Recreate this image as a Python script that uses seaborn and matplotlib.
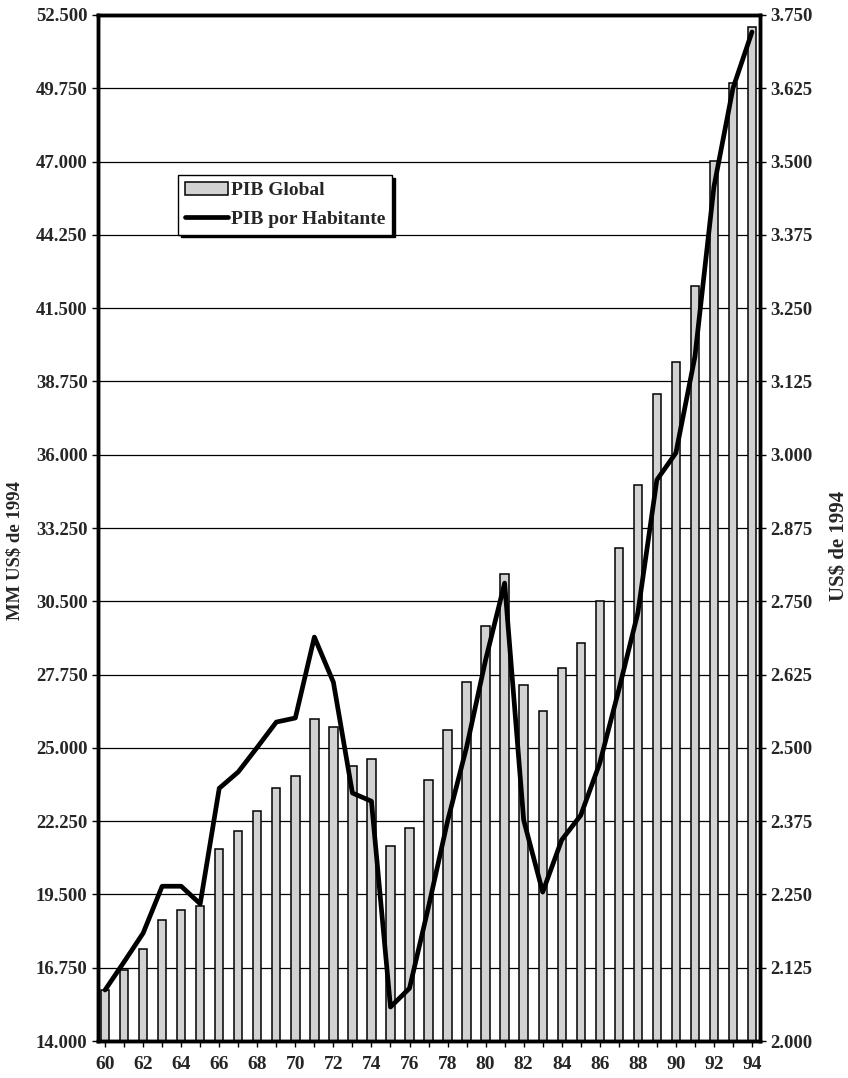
import numpy as np
import pandas as pd
import matplotlib
matplotlib.use("Agg")
import matplotlib.pyplot as plt
from matplotlib.patches import Patch
from matplotlib.lines import Line2D
from matplotlib.ticker import FuncFormatter, FixedLocator
import seaborn as sns

years = [str(y) for y in range(60, 95)]
pib_global = [15910, 16660, 17450, 18540, 18920, 19070, 21200, 21880, 22630, 23490,
              23940, 26080, 25780, 24320, 24580, 21320, 21990, 23790, 25670, 27470,
              29570, 31520, 27360, 26380, 28000, 28930, 30510, 32500, 34860, 38280,
              39480, 42330, 47020, 49950, 52050]
pib_hab = [2087, 2135, 2184, 2264, 2264, 2234, 2431, 2459, 2501, 2544,
           2551, 2689, 2612, 2423, 2409, 2058, 2090, 2229, 2375, 2501,
           2650, 2781, 2377, 2254, 2343, 2385, 2474, 2599, 2730, 2957,
           3003, 3167, 3457, 3625, 3721]
left_ticks = [14000 + 2750 * i for i in range(15)]
right_ticks = [2000 + 125 * i for i in range(15)]
label_left = "MM US$ de 1994"
label_right = "US$ de 1994"
legend_labels = ["PIB Global", "PIB por Habitante"]

sns.set_theme(style="white")
plt.rcParams['font.family'] = ['Liberation Serif', 'DejaVu Serif']
plt.rcParams['font.weight'] = 'bold'

df = pd.DataFrame({"year": years, "global": pib_global, "hab": pib_hab})

fig = plt.figure(figsize=(8.48, 10.78), dpi=100)
ax = fig.add_axes([0.1156, 0.0343, 0.7806, 0.9518])

bar_color = "#d2d2d2"
sns.barplot(data=df, x="year", y="global", ax=ax, color=bar_color,
            edgecolor="black", linewidth=1.1, width=0.44, saturation=1)
ax.set_axisbelow(True)
ax.yaxis.grid(True, color="black", linewidth=0.9)
ax.xaxis.grid(False)
ax.set_ylim(left_ticks[0], left_ticks[-1])
ax.set_xlim(-0.37, len(years) - 1 + 0.42)
ax.yaxis.set_major_locator(FixedLocator(left_ticks))
fmt = FuncFormatter(lambda v, p: f"{v:,.0f}".replace(",", "."))
ax.yaxis.set_major_formatter(fmt)
ax.set_xticks(range(len(years)))
ax.set_xticklabels([y if i % 2 == 0 else "" for i, y in enumerate(years)])
ax.set_xlabel("")
ax.set_ylabel(label_left, fontsize=13.5, fontweight="bold")
ax.yaxis.set_label_coords(-0.113, 0.478)
ax.tick_params(axis="both", which="major", direction="out", length=4, width=1,
               labelsize=13.5, color="black")
ax.tick_params(axis="x", labelsize=14, pad=7)
ax.tick_params(left=True, bottom=True)

ax2 = ax.twinx()
sns.lineplot(x=np.arange(len(years)), y=df["hab"], ax=ax2, color="black",
             linewidth=3.4, solid_joinstyle="round", solid_capstyle="round")
ax2.set_ylim(right_ticks[0], right_ticks[-1])
ax2.yaxis.set_major_locator(FixedLocator(right_ticks))
ax2.yaxis.set_major_formatter(fmt)
ax2.set_ylabel(label_right, fontsize=15, fontweight="bold")
ax2.yaxis.set_label_coords(1.105, 0.483)
ax2.tick_params(axis="y", direction="out", length=4, width=1, labelsize=13.5,
                right=True, color="black")
ax2.grid(False)

for a in (ax, ax2):
    for s in a.spines.values():
        s.set_color("black")
        s.set_linewidth(2.5)
        s.set_visible(True)
for lbl in ax.get_xticklabels() + ax.get_yticklabels() + ax2.get_yticklabels():
    lbl.set_fontweight("bold")

handles = [Patch(facecolor=bar_color, edgecolor="black", linewidth=1.1),
           Line2D([0], [0], color="black", linewidth=3.4)]
leg = ax2.legend(handles, legend_labels, loc="upper left",
                 bbox_to_anchor=(0.121, 0.844), borderaxespad=0,
                 frameon=True, fancybox=False, shadow={"color": "black", "alpha": 1},
                 prop={"family": "Liberation Serif", "weight": "bold", "size": 14},
                 handlelength=2.2, handletextpad=0.15, labelspacing=0.55,
                 borderpad=0.35)
leg.get_frame().set_edgecolor("black")
leg.get_frame().set_linewidth(1.0)
leg.get_frame().set_facecolor("white")

fig.savefig("out.png", dpi=100)
